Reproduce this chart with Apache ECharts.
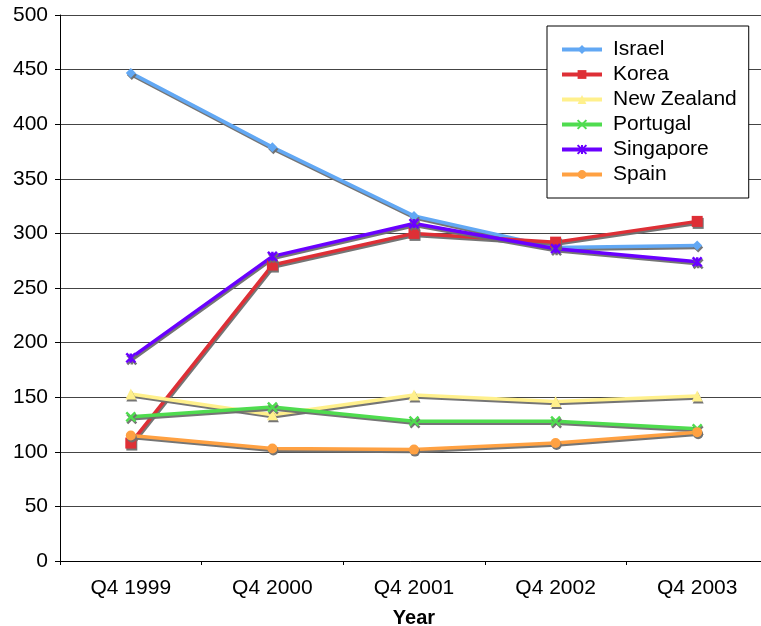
<!DOCTYPE html>
<html>
<head>
<meta charset="utf-8">
<script src="https://cdn.jsdelivr.net/npm/echarts@6/dist/echarts.min.js"></script>
<style>
html,body{margin:0;padding:0;background:#fff;}
#chart{width:761px;height:626px;}
</style>
</head>
<body>
<div id="chart"></div>
<script>
const categories = ['Q4 1999', 'Q4 2000', 'Q4 2001', 'Q4 2002', 'Q4 2003'];
const yTicks = [0, 50, 100, 150, 200, 250, 300, 350, 400, 450, 500];
const israel = [447, 379, 316, 287, 289];
const korea = [108, 271, 300, 292, 311];
const newZealand = [153, 134, 152, 146, 151];
const portugal = [132, 141, 128, 128, 121];
const singapore = [186, 279, 309, 286, 274];
const spain = [115, 103, 102, 108, 118];

const FONT = '"Liberation Sans", Arial, Helvetica, sans-serif';
const xPath = 'path://M0,0L10,10M10,0L0,10';
const starPath = 'path://M0,0L10,10M10,0L0,10M5,0L5,10';

function mk(name, data, color, symbol, size, stroke) {
  return {
    name: name,
    type: 'line',
    data: data,
    symbol: symbol,
    symbolSize: size,
    color: color,
    lineStyle: {
      width: 3.5, color: color,
      shadowColor: 'rgba(110,110,110,0.95)', shadowBlur: 0, shadowOffsetX: 1, shadowOffsetY: 2
    },
    itemStyle: {
      color: color,
      borderColor: color,
      borderWidth: stroke ? 2.5 : 0,
      shadowColor: 'rgba(110,110,110,0.95)', shadowBlur: 0, shadowOffsetX: 1, shadowOffsetY: 2
    },
    emphasis: { disabled: true },
    animation: false
  };
}

const chart = echarts.init(document.getElementById('chart'));
chart.setOption({
  backgroundColor: '#fff',
  animation: false,
  textStyle: { fontFamily: FONT },
  grid: { left: 60, right: -7, top: 15, bottom: 65, containLabel: false, outerBoundsMode: 'none' },
  legend: {
    orient: 'vertical',
    left: 547,
    top: 26,
    padding: [13, 12, 13, 13],
    borderColor: '#000',
    borderWidth: 1,
    backgroundColor: '#fff',
    itemWidth: 40,
    itemHeight: 11,
    itemGap: 4,
    lineStyle: { width: 4, shadowBlur: 0, shadowOffsetX: 0, shadowOffsetY: 0, shadowColor: 'transparent' },
    itemStyle: { shadowBlur: 0, shadowOffsetX: 0, shadowOffsetY: 0, shadowColor: 'transparent' },
    textStyle: { fontSize: 21, color: '#000', fontFamily: FONT, padding: [0, 0, 0, 6] },
    data: ['Israel', 'Korea', 'New Zealand', 'Portugal', 'Singapore', 'Spain']
  },
  xAxis: {
    type: 'category',
    data: categories,
    boundaryGap: true,
    name: 'Year',
    nameLocation: 'middle',
    nameGap: 47,
    nameTextStyle: { fontSize: 20, fontWeight: 'bold', color: '#000', fontFamily: FONT },
    axisLine: { lineStyle: { color: '#000', width: 1 } },
    axisTick: { show: true, length: 4, inside: false, lineStyle: { color: '#000' } },
    axisLabel: { fontSize: 21, color: '#000', margin: 17, fontFamily: FONT },
    splitLine: { show: false }
  },
  yAxis: {
    type: 'value',
    min: yTicks[0],
    max: yTicks[yTicks.length - 1],
    interval: yTicks[1] - yTicks[0],
    axisLine: { show: true, lineStyle: { color: '#000', width: 1 } },
    axisTick: { show: true, length: 5, lineStyle: { color: '#000' } },
    axisLabel: { fontSize: 21, color: '#000', margin: 12, fontFamily: FONT },
    splitLine: { show: true, lineStyle: { color: '#444', width: 1 } }
  },
  series: [
    mk('Israel', israel, '#62a8f4', 'diamond', 10, false),
    mk('Korea', korea, '#de2f36', 'rect', 11, false),
    mk('New Zealand', newZealand, '#fff08c', 'triangle', 11, false),
    mk('Portugal', portugal, '#4fdc4f', xPath, 9, true),
    mk('Singapore', singapore, '#6a00ff', starPath, 9, true),
    mk('Spain', spain, '#ffa142', 'circle', 10, false)
  ]
});
</script>
</body>
</html>
